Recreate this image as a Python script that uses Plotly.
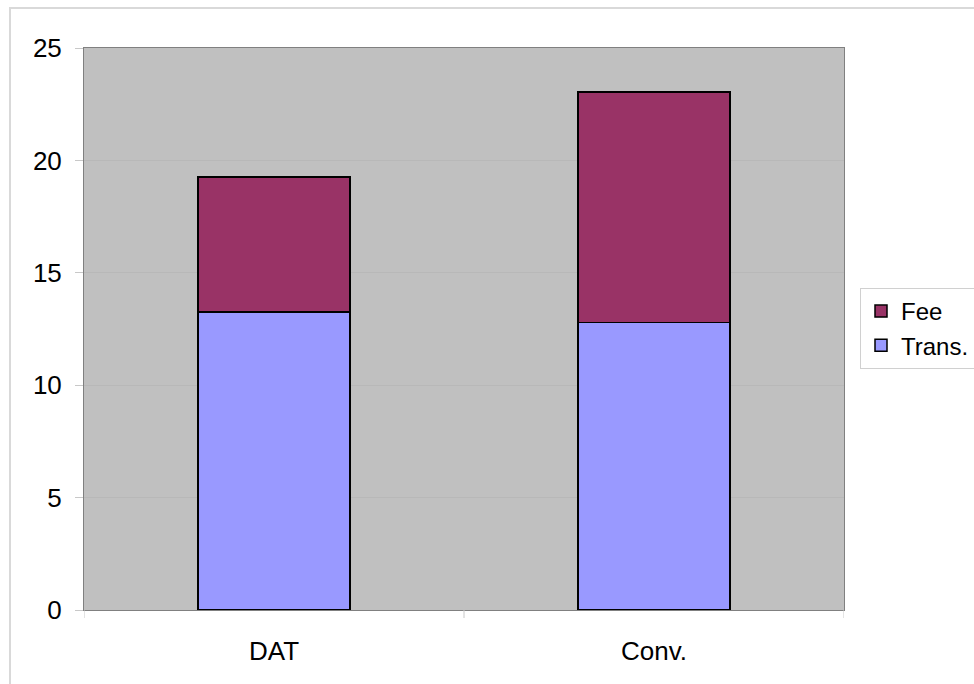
import plotly.graph_objects as go

# Cost breakdown per method
categories = ["DAT", "Conv."]
trans_values = [13.26, 12.8]
fee_values = [6.0, 10.25]

tick_vals = [0, 5, 10, 15, 20, 25]

W, H = 974, 684
L, R, T, B = 84, 130, 48, 74
plot_w = W - L - R
plot_h = H - T - B

font = dict(family="Liberation Sans, Arial, Helvetica, sans-serif", size=26, color="#000000")
legend_font = dict(family="Liberation Sans, Arial, Helvetica, sans-serif", size=24, color="#000000")

fig = go.Figure()
fig.add_trace(go.Bar(
    name="Trans.", x=categories, y=trans_values,
    marker=dict(color="#9999ff", line=dict(color="#000000", width=1.5)),
    width=0.4,
))
fig.add_trace(go.Bar(
    name="Fee", x=categories, y=fee_values,
    marker=dict(color="#993366", line=dict(color="#000000", width=1.5)),
    width=0.4,
))

def px_x(px):
    return (px - L) / plot_w

def px_y(py):
    return (H - B - py) / plot_h

# light frame around the whole chart
fig.add_shape(type="rect", xref="paper", yref="paper",
              x0=px_x(10), x1=px_x(990), y0=px_y(700), y1=px_y(8),
              line=dict(color="#d9d9d9", width=2), layer="below")

# category separator ticks under the x axis
for xv in [-0.5, 0.5, 1.5]:
    fig.add_shape(type="line", xref="x", yref="paper",
                  x0=xv, x1=xv, y0=0, y1=px_y(H - B + 8),
                  line=dict(color="#c8c8c8", width=1))

fig.update_layout(
    width=W, height=H,
    margin=dict(l=L, r=R, t=T, b=B, pad=0, autoexpand=False),
    barmode="stack",
    bargap=0.6,
    paper_bgcolor="#ffffff",
    plot_bgcolor="#c0c0c0",
    font=font,
    showlegend=True,
    legend=dict(
        x=px_x(860), y=px_y(288), xanchor="left", yanchor="top",
        bgcolor="#ffffff", bordercolor="#d0d0d0", borderwidth=1,
        traceorder="reversed", font=legend_font,
    ),
    xaxis=dict(
        range=[-0.5, 1.5], showgrid=False, zeroline=False,
        showline=True, linecolor="#808080", linewidth=1, mirror=True,
        ticks="", tickfont=font, ticklabelstandoff=18,
    ),
    yaxis=dict(
        range=[0, 25], tickvals=tick_vals, showgrid=True,
        gridcolor="#b8b8b8", gridwidth=1, zeroline=False,
        showline=True, linecolor="#808080", linewidth=1, mirror=True,
        ticks="outside", ticklen=8, tickcolor="#c8c8c8",
        tickfont=font, ticklabelstandoff=8,
    ),
)

fig.write_html("out.html")
